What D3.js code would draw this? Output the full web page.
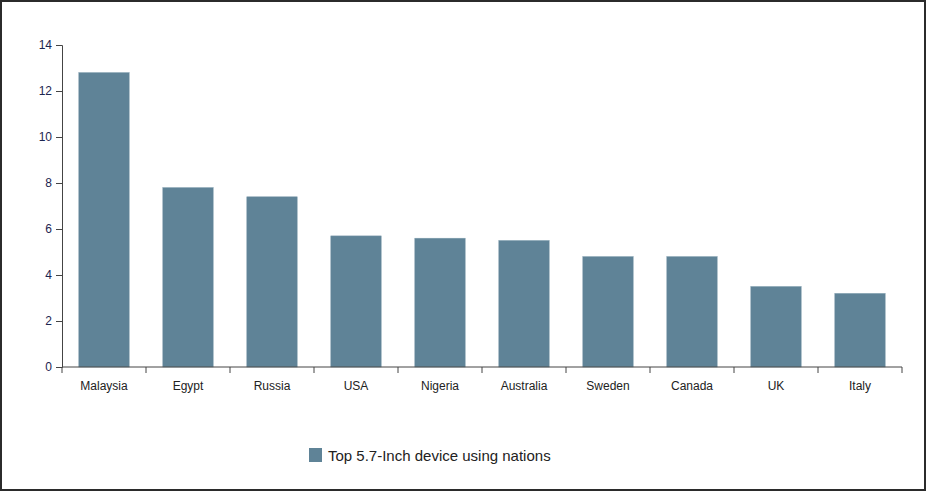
<!DOCTYPE html>
<html><head><meta charset="utf-8">
<script src="https://cdn.jsdelivr.net/npm/d3@7"></script>
<style>
body{margin:0;background:#fff;font-family:"Liberation Sans",Arial,sans-serif}
svg{display:block}
</style></head>
<body><svg width="927" height="492"></svg>
<script>
var countries=['Malaysia','Egypt','Russia','USA','Nigeria','Australia','Sweden','Canada','UK','Italy']
var values=[12.8,7.8,7.4,5.7,5.6,5.5,4.8,4.8,3.5,3.2]
var yTicks=[0,2,4,6,8,10,12,14]
var seriesName='Top 5.7-Inch device using nations'

var svg=d3.select('svg')
svg.append('rect').attr('x',1).attr('y',1).attr('width',924).attr('height',489)
   .attr('fill','#fff').attr('stroke','#2b2b2b').attr('stroke-width',2)

var x=d3.scaleBand().domain(countries).range([62,902]).paddingInner(0.4).paddingOuter(0.2)
var y=d3.scaleLinear().domain([0,14]).range([367,45])

svg.selectAll('rect.bar').data(values).enter().append('rect')
   .attr('class','bar')
   .attr('x',function(d,i){return x(countries[i])})
   .attr('width',x.bandwidth())
   .attr('y',function(d){return y(d)})
   .attr('height',function(d){return y(0)-y(d)})
   .attr('fill','#5f8397').attr('stroke','#7f9dae').attr('stroke-width',0.5)

// y axis
var ya=svg.append('g').attr('transform','translate(62,0)')
   .call(d3.axisLeft(y).tickValues(yTicks).tickSize(6).tickPadding(4))
ya.selectAll('text').attr('fill','#1c2550').style('font-size','12px').style('font-family','"Liberation Sans",Arial')
ya.selectAll('line,path').attr('stroke','#444')

// x axis with ticks at band boundaries
var xa=svg.append('g').attr('transform','translate(0,367)')
xa.append('line').attr('x1',62).attr('x2',902).attr('stroke','#444')
var step=x.step()
d3.range(countries.length+1).forEach(function(i){
  var px=62+i*(840/countries.length)
  xa.append('line').attr('x1',px).attr('x2',px).attr('y1',0).attr('y2',6).attr('stroke','#444')
})
xa.selectAll('text.lbl').data(countries).enter().append('text')
  .attr('x',function(d){return x(d)+x.bandwidth()/2}).attr('y',23)
  .attr('text-anchor','middle').attr('fill','#222')
  .style('font-size','12px').text(String)

// legend
var lg=svg.append('g').attr('transform','translate(309,448)')
lg.append('rect').attr('width',13).attr('height',14).attr('fill','#5f8397')
lg.append('text').attr('x',19).attr('y',12.5).attr('fill','#222').style('font-size','15px').text(seriesName)
</script></body></html>
